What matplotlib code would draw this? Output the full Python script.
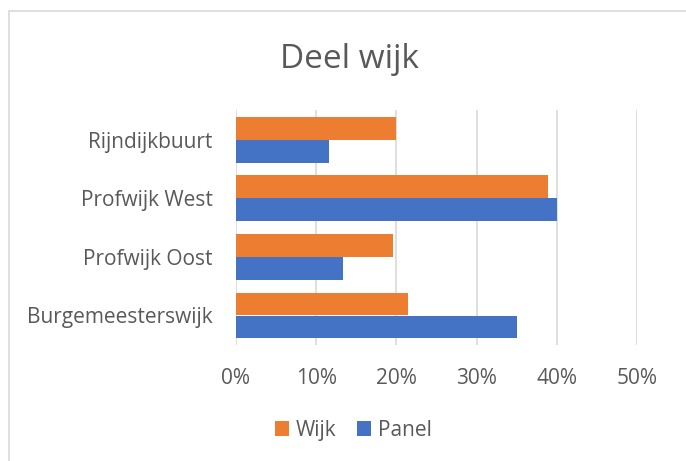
import matplotlib
matplotlib.use("Agg")
import matplotlib.pyplot as plt
import numpy as np
from matplotlib.patches import Rectangle, Patch

# ── Data ────────────────────────────────────────────────────────────
categories = ["Rijndijkbuurt", "Profwijk West", "Profwijk Oost", "Burgemeesterswijk"]
wijk = [0.200, 0.389, 0.196, 0.214]
panel = [0.116, 0.400, 0.133, 0.350]
xticks = [0.0, 0.1, 0.2, 0.3, 0.4, 0.5]
xtick_labels = ["0%", "10%", "20%", "30%", "40%", "50%"]

ORANGE = "#ED7D31"
BLUE = "#4472C4"
TEXT = "#595959"
GRID = "#D9D9D9"

plt.rcParams["font.family"] = ["Open Sans", "DejaVu Sans"]

W, H = 686, 461
fig = plt.figure(figsize=(W / 100, H / 100), dpi=100)
ax = fig.add_axes([236 / W, 1 - 344.8 / H, (637 - 236) / W, (344.8 - 110.4) / H])

y = np.arange(len(categories))
h = 0.392
ax.barh(y - h / 2, wijk, height=h, color=ORANGE, label="Wijk", zorder=3)
ax.barh(y + h / 2, panel, height=h, color=BLUE, label="Panel", zorder=3)

ax.set_xlim(0, 0.5)
ax.set_ylim(len(categories) - 0.5, -0.5)
ax.set_xticks(xticks)
ax.set_xticklabels(xtick_labels)
ax.set_yticks(y)
ax.set_yticklabels(categories)
ax.tick_params(axis="both", length=0, colors=TEXT, labelsize=15)
ax.tick_params(axis="x", pad=17)
ax.tick_params(axis="y", pad=17)
ax.grid(axis="x", color=GRID, linewidth=1.2, zorder=0)
for s in ax.spines.values():
    s.set_visible(False)

fig.text(349 / W, 1 - 59 / H, "Deel wijk", ha="center", va="center",
         fontsize=24, color=TEXT)

handles = [Patch(facecolor=ORANGE, label="Wijk"), Patch(facecolor=BLUE, label="Panel")]
fig.legend(handles=handles, loc="center", bbox_to_anchor=(353 / W, 1 - 430 / H),
           ncol=2, frameon=False, fontsize=15, labelcolor=TEXT,
           handlelength=0.7, handleheight=0.7, handletextpad=0.3, columnspacing=1.0)

# chart frame (cropped on the right/bottom)
fig.add_artist(Rectangle((9 / W, -0.1), 1.2, 1 - 11 / H + 0.1, transform=fig.transFigure,
                         fill=False, edgecolor=GRID, linewidth=1.2))

fig.savefig("out.png", dpi=100)
